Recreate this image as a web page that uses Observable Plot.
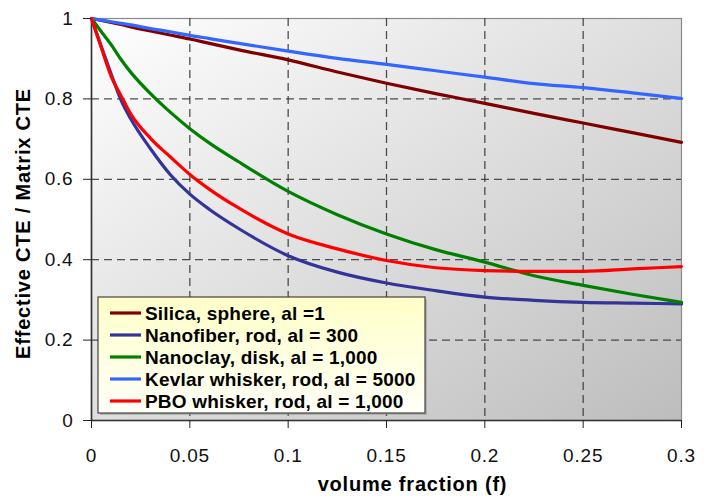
<!DOCTYPE html>
<html><head><meta charset="utf-8">
<script src="https://cdn.jsdelivr.net/npm/d3@7"></script>
<script src="https://cdn.jsdelivr.net/npm/@observablehq/plot@0.6"></script>
<style>
body{margin:0;background:#fff;}
#chart{position:relative;width:704px;height:502px;}
</style></head><body><div id="chart"></div>
<script>
// volume fraction samples
const fractions = [0, 0.005, 0.01, 0.015, 0.02, 0.03, 0.04, 0.05, 0.06, 0.075, 0.1, 0.125, 0.15, 0.175, 0.2, 0.225, 0.25, 0.275, 0.3];
// Effective CTE / Matrix CTE per series
const silica    = [1, 0.995, 0.99, 0.985, 0.979, 0.969, 0.959, 0.949, 0.938, 0.922, 0.897, 0.867, 0.839, 0.813, 0.789, 0.764, 0.740, 0.716, 0.692];
const nanofiber = [1, 0.93, 0.862, 0.797, 0.75, 0.676, 0.612, 0.563, 0.525, 0.477, 0.41, 0.369, 0.342, 0.323, 0.307, 0.299, 0.294, 0.292, 0.29];
const nanoclay  = [1, 0.967, 0.935, 0.898, 0.866, 0.813, 0.767, 0.726, 0.69, 0.643, 0.57, 0.512, 0.464, 0.425, 0.394, 0.36, 0.336, 0.314, 0.294];
const kevlar    = [1, 0.996, 0.992, 0.988, 0.984, 0.975, 0.967, 0.958, 0.95, 0.938, 0.919, 0.901, 0.886, 0.870, 0.854, 0.838, 0.828, 0.815, 0.801];
const pbo       = [1, 0.927, 0.856, 0.808, 0.762, 0.702, 0.656, 0.612, 0.575, 0.528, 0.464, 0.427, 0.398, 0.38, 0.373, 0.371, 0.371, 0.377, 0.383];

const seriesNames = ["Silica, sphere, al =1", "Nanofiber, rod, al = 300", "Nanoclay, disk, al = 1,000", "Kevlar whisker, rod, al = 5000", "PBO whisker, rod, al = 1,000"];
const seriesColors = ["#800000", "#333399", "#008000", "#3366ff", "#ff0000"];

const xTicks = [0, 0.05, 0.1, 0.15, 0.2, 0.25, 0.3];
const xTickLabels = ["0", "0.05", "0.1", "0.15", "0.2", "0.25", "0.3"];
const yTicks = [0, 0.2, 0.4, 0.6, 0.8, 1];
const yTickLabels = ["0", "0.2", "0.4", "0.6", "0.8", "1"];
const xTitle = "volume fraction (f)";
const yTitle = "Effective CTE / Matrix CTE";

const seriesValues = [silica, nanofiber, nanoclay, kevlar, pbo];
const rows = seriesNames.flatMap((name, s) => fractions.map((f, i) => ({name, f, v: seriesValues[s][i]})));

const gridStyle = {stroke: "#333", strokeOpacity: 0.85, strokeDasharray: "8,5", strokeWidth: 1.3};

const svg = Plot.plot({
  width: 704, height: 502,
  marginLeft: 91, marginRight: 23, marginTop: 18, marginBottom: 82,
  style: {fontFamily: "'Liberation Sans', Arial, sans-serif", fontSize: "19px", color: "#111", background: "#fff", letterSpacing: "0.8px"},
  x: {domain: [0, 0.3]},
  y: {domain: [0, 1]},
  color: {domain: seriesNames, range: seriesColors},
  marks: [
    Plot.frame({fill: "url(#plotBg)", stroke: "#8a8a8a", strokeWidth: 1.2}),
    Plot.gridX(xTicks.slice(1, -1), gridStyle),
    Plot.gridY(yTicks.slice(1, -1), gridStyle),
    Plot.ruleX([0], {stroke: "#333", strokeWidth: 1.6}),
    Plot.ruleY([0], {stroke: "#333", strokeWidth: 1.6}),
    Plot.line(rows, {x: "f", y: "v", z: "name", stroke: "name", strokeWidth: 3.2, curve: "monotone-x"}),
    Plot.axisX(xTicks, {tickSize: 8, tickPadding: 20, tickFormat: d => xTickLabels[xTicks.indexOf(d)], label: null, stroke: "#222"}),
    Plot.axisY(yTicks, {tickSize: 8, tickPadding: 10, tickFormat: d => yTickLabels[yTicks.indexOf(d)], label: null, stroke: "#222"}),
    Plot.text([xTitle], {frameAnchor: "bottom", dx: 26, dy: 70, fontWeight: "bold", fontSize: 20, fill: "#000"}),
    Plot.text([yTitle], {frameAnchor: "left", textAnchor: "middle", rotate: -90, dx: -68, dy: 4, fontWeight: "bold", fontSize: 20, fill: "#000"})
  ]
});

// gradients
const s = d3.select(svg);
const defs = s.insert("defs", ":first-child");
const bg = defs.append("linearGradient").attr("id", "plotBg").attr("x1", 0).attr("y1", 0).attr("x2", 1).attr("y2", 1);
bg.append("stop").attr("offset", "0%").attr("stop-color", "#ffffff");
bg.append("stop").attr("offset", "100%").attr("stop-color", "#bdbdbd");
const lg = defs.append("linearGradient").attr("id", "legBg").attr("x1", 0).attr("y1", 0).attr("x2", 0).attr("y2", 1);
lg.append("stop").attr("offset", "0%").attr("stop-color", "#ffffc8");
lg.append("stop").attr("offset", "100%").attr("stop-color", "#fffff8");

// legend
const leg = s.append("g").attr("class", "legend").style("letter-spacing", "0.2px").attr("text-anchor", "start");
leg.append("rect").attr("x", 100).attr("y", 299).attr("width", 327).attr("height", 116).attr("fill", "#9a9a9a").attr("opacity", 0.6);
leg.append("rect").attr("x", 98).attr("y", 297).attr("width", 327).attr("height", 116).attr("fill", "url(#legBg)").attr("stroke", "#444").attr("stroke-width", 1.2);
seriesNames.forEach((name, i) => {
  const cy = 313 + i * 22;
  leg.append("line").attr("x1", 110).attr("x2", 141).attr("y1", cy).attr("y2", cy).attr("stroke", seriesColors[i]).attr("stroke-width", 3.2);
  leg.append("text").attr("x", 145).attr("y", cy).attr("dy", "0.36em").attr("text-anchor", "start").attr("font-weight", "bold").attr("font-size", 19).attr("fill", "#000").text(name);
});

document.getElementById("chart").appendChild(svg);
</script>
</body></html>
